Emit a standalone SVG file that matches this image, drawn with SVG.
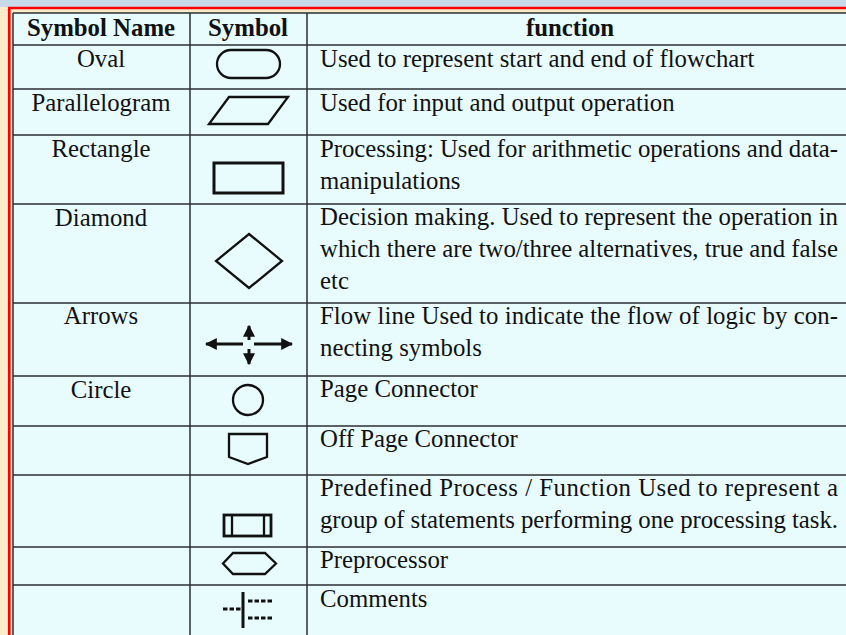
<svg xmlns="http://www.w3.org/2000/svg" width="846" height="635" viewBox="0 0 846 635">
<style>
.t{font-family:"Liberation Serif","Times New Roman",serif;font-size:24.8px;fill:#111}
.h{font-weight:bold}
.c{text-anchor:middle}
.g{stroke:#2b2f33;stroke-width:1.5;fill:none}
.s{stroke:#111;stroke-width:2.3;fill:none;stroke-linejoin:miter}
.d{stroke:#111;stroke-width:2.8;stroke-dasharray:4.5 2;fill:none}
.a{stroke:#111;stroke-width:3}
</style>
<defs>
<marker id="ah" viewBox="0 0 10 10" refX="9" refY="5" markerWidth="4" markerHeight="4" orient="auto" markerUnits="strokeWidth">
<path d="M0,0 L10,5 L0,10 z" fill="#111"/>
</marker>
</defs>
<rect width="846" height="635" fill="#fdebc9"/>
<rect width="846" height="7" fill="#c8daea"/>
<line x1="8" y1="8" x2="846" y2="8" stroke="#f00" stroke-width="2.6"/>
<line x1="9.3" y1="7" x2="9.3" y2="635" stroke="#f00" stroke-width="2.6"/>
<rect x="13" y="13" width="840" height="630" fill="#e8fcfe"/>
<g id="grid">
<line class="g" x1="13" y1="13" x2="846" y2="13"/>
<line class="g" x1="13" y1="45" x2="846" y2="45"/>
<line class="g" x1="13" y1="89" x2="846" y2="89"/>
<line class="g" x1="13" y1="135" x2="846" y2="135"/>
<line class="g" x1="13" y1="204" x2="846" y2="204"/>
<line class="g" x1="13" y1="303" x2="846" y2="303"/>
<line class="g" x1="13" y1="376" x2="846" y2="376"/>
<line class="g" x1="13" y1="426" x2="846" y2="426"/>
<line class="g" x1="13" y1="475" x2="846" y2="475"/>
<line class="g" x1="13" y1="547" x2="846" y2="547"/>
<line class="g" x1="13" y1="585" x2="846" y2="585"/>
<line class="g" x1="13" y1="13" x2="13" y2="635"/>
<line class="g" x1="190" y1="13" x2="190" y2="635"/>
<line class="g" x1="307" y1="13" x2="307" y2="635"/>
</g>
<g id="header">
<text class="t h c" x="101" y="36">Symbol Name</text>
<text class="t h c" x="248" y="36">Symbol</text>
<text class="t h c" x="570" y="36">function</text>
</g>
<g id="oval">
<text class="t c" x="101" y="67">Oval</text>
<rect class="s" x="217" y="50" width="63" height="28" rx="14"/>
<text class="t" x="320" y="67">Used to represent start and end of flowchart</text>
</g>
<g id="parallelogram">
<text class="t c" x="101" y="111">Parallelogram</text>
<polygon class="s" points="229,97 288,97 268,124 209,124"/>
<text class="t" x="320" y="111">Used for input and output operation</text>
</g>
<g id="rectangle">
<text class="t c" x="101" y="157">Rectangle</text>
<rect x="214" y="163" width="69" height="30" fill="none" stroke="#111" stroke-width="3"/>
<text class="t" x="320" y="157" textLength="518" lengthAdjust="spacing">Processing: Used for arithmetic operations and data-</text>
<text class="t" x="320" y="189">manipulations</text>
</g>
<g id="diamond">
<text class="t c" x="101" y="226">Diamond</text>
<polygon class="s" points="249,234 282,261 249,288 216,261"/>
<text class="t" x="320" y="225" textLength="518" lengthAdjust="spacing">Decision making. Used to represent the operation in</text>
<text class="t" x="320" y="257" textLength="518" lengthAdjust="spacing">which there are two/three alternatives, true and false</text>
<text class="t" x="320" y="289">etc</text>
</g>
<g id="arrows">
<text class="t c" x="101" y="324">Arrows</text>
<line class="a" x1="243" y1="344" x2="206" y2="344" marker-end="url(#ah)"/>
<line class="a" x1="254" y1="344" x2="292" y2="344" marker-end="url(#ah)"/>
<line class="a" x1="249" y1="340" x2="249" y2="326" marker-end="url(#ah)"/>
<line class="a" x1="249" y1="349" x2="249" y2="364" marker-end="url(#ah)"/>
<text class="t" x="320" y="324" textLength="518" lengthAdjust="spacing">Flow line Used to indicate the flow of logic by con-</text>
<text class="t" x="320" y="356">necting symbols</text>
</g>
<g id="circle">
<text class="t c" x="101" y="398">Circle</text>
<circle class="s" cx="248" cy="400" r="15"/>
<text class="t" x="320" y="397">Page Connector</text>
</g>
<g id="offpage">
<polygon class="s" points="229,434 267,434 267,457 248,464 229,457"/>
<text class="t" x="320" y="447">Off Page Connector</text>
</g>
<g id="predefined">
<rect x="224" y="515" width="47" height="21" fill="none" stroke="#111" stroke-width="2.8"/>
<line x1="232" y1="515" x2="232" y2="536" stroke="#111" stroke-width="2.3"/>
<line x1="264" y1="515" x2="264" y2="536" stroke="#111" stroke-width="2.3"/>
<text class="t" x="320" y="496" textLength="518" lengthAdjust="spacing">Predefined Process / Function Used to represent a</text>
<text class="t" x="320" y="528" textLength="518" lengthAdjust="spacing">group of statements performing one processing task.</text>
</g>
<g id="preprocessor">
<polygon class="s" points="233,553 265,553 276,563.5 265,574 233,574 223,563.5"/>
<text class="t" x="320" y="568">Preprocessor</text>
</g>
<g id="comments">
<line x1="243" y1="592" x2="243" y2="628" stroke="#111" stroke-width="3"/>
<line class="d" x1="223" y1="609" x2="243" y2="609"/>
<line class="d" x1="248" y1="601" x2="274" y2="601"/>
<line class="d" x1="248" y1="618" x2="274" y2="618"/>
<text class="t" x="320" y="607">Comments</text>
</g>
</svg>
